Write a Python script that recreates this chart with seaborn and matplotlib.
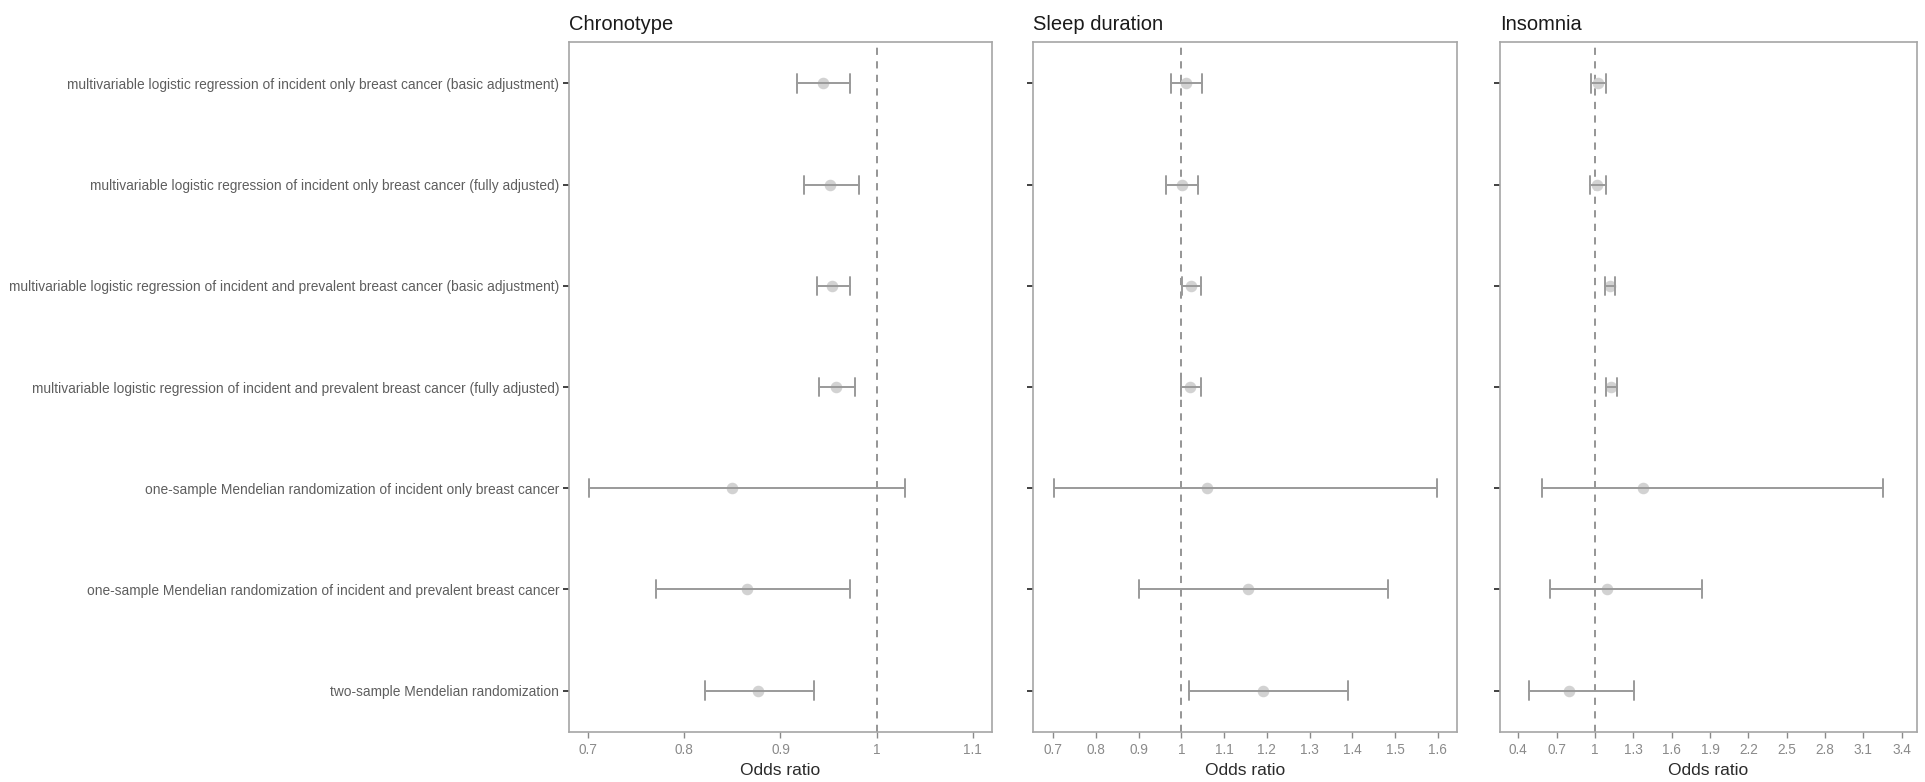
import numpy as np
import pandas as pd
import matplotlib
matplotlib.use("Agg")
import matplotlib.pyplot as plt
import seaborn as sns

# ---------------- data ----------------
analyses = [
    "multivariable logistic regression of incident only breast cancer (basic adjustment)",
    "multivariable logistic regression of incident only breast cancer (fully adjusted)",
    "multivariable logistic regression of incident and prevalent breast cancer (basic adjustment)",
    "multivariable logistic regression of incident and prevalent breast cancer (fully adjusted)",
    "one-sample Mendelian randomization of incident only breast cancer",
    "one-sample Mendelian randomization of incident and prevalent breast cancer",
    "two-sample Mendelian randomization",
]
panels = ["Chronotype", "Sleep duration", "Insomnia"]

chrono_or = [0.944, 0.952, 0.954, 0.958, 0.850, 0.865, 0.877]
chrono_lo = [0.917, 0.924, 0.938, 0.940, 0.701, 0.770, 0.821]
chrono_hi = [0.972, 0.982, 0.972, 0.977, 1.030, 0.972, 0.935]

sleep_or = [1.010, 1.001, 1.023, 1.021, 1.061, 1.156, 1.190]
sleep_lo = [0.975, 0.964, 1.001, 0.999, 0.702, 0.901, 1.018]
sleep_hi = [1.048, 1.039, 1.045, 1.045, 1.599, 1.484, 1.390]

insom_or = [1.021, 1.016, 1.120, 1.128, 1.378, 1.094, 0.794]
insom_lo = [0.967, 0.961, 1.078, 1.086, 0.585, 0.650, 0.484]
insom_hi = [1.084, 1.089, 1.157, 1.172, 3.251, 1.840, 1.308]

chrono_ticks = [0.7, 0.8, 0.9, 1.0, 1.1]
sleep_ticks = [0.7, 0.8, 0.9, 1.0, 1.1, 1.2, 1.3, 1.4, 1.5, 1.6]
insom_ticks = [0.4, 0.7, 1.0, 1.3, 1.6, 1.9, 2.2, 2.5, 2.8, 3.1, 3.4]
chrono_tick_labels = ["0.7", "0.8", "0.9", "1", "1.1"]
sleep_tick_labels = ["0.7", "0.8", "0.9", "1", "1.1", "1.2", "1.3", "1.4", "1.5", "1.6"]
insom_tick_labels = ["0.4", "0.7", "1", "1.3", "1.6", "1.9", "2.2", "2.5", "2.8", "3.1", "3.4"]

# ---------------- style ----------------
sns.set_theme(style="white")
plt.rcParams["font.family"] = ["Liberation Sans", "DejaVu Sans"]

W, H = 1925, 782
fig = plt.figure(figsize=(W / 100, H / 100), dpi=100)

# axes boxes in pixels: (left, right), top=42, bottom=732
boxes = [(569, 992), (1033, 1457), (1500, 1917)]
xlims = [(0.68, 1.12), (0.653, 1.645), (0.257, 3.52)]
top, bottom = 42, 732

series = [
    (chrono_or, chrono_lo, chrono_hi, chrono_ticks, chrono_tick_labels),
    (sleep_or, sleep_lo, sleep_hi, sleep_ticks, sleep_tick_labels),
    (insom_or, insom_lo, insom_hi, insom_ticks, insom_tick_labels),
]

frame_col = "#a6a6a6"
bar_col = "#9a9a9a"
pt_col = "#d2d2d2"

for i, (title, (l, r), xl, (est, lo, hi, ticks, tlabels)) in enumerate(
        zip(panels, boxes, xlims, series)):
    ax = fig.add_axes([l / W, 1 - bottom / H, (r - l) / W, (bottom - top) / H])

    # long data: each analysis contributes lo, est, hi; median -> estimate, full range -> CI
    df = pd.DataFrame({
        "analysis": np.repeat(analyses, 3),
        "value": np.ravel(np.column_stack([lo, est, hi])),
    })
    ax.axvline(1.0, color="#8c8c8c", lw=1.3, ls=(0, (4, 3.5)), zorder=1)
    sns.pointplot(data=df, x="value", y="analysis", order=analyses,
                  estimator="median", errorbar=("pi", 100),
                  linestyle="none", color=pt_col, markersize=6.3,
                  capsize=0.18, err_kws={"color": bar_col, "linewidth": 1.4},
                  ax=ax, zorder=3)

    ax.set_xlim(*xl)
    ax.set_ylim(6.41, -0.41)
    ax.set_xticks(ticks)
    ax.set_xticklabels(tlabels)
    ax.set_xlabel("Odds ratio", fontsize=12.5, color="#2b2b2b", labelpad=4.5)
    ax.set_ylabel("")
    ax.set_title(title, loc="left", fontsize=14.5, color="#1a1a1a", pad=9)

    for s in ax.spines.values():
        s.set_visible(True)
        s.set_color(frame_col)
        s.set_linewidth(1.2)
    ax.tick_params(axis="x", colors="#8a8a8a", labelsize=9.8, length=4, width=1.0,
                   direction="out", bottom=True, pad=4)
    ax.tick_params(axis="y", color="#333333", length=4, width=1.3, direction="out",
                   left=True, labelcolor="#5e5e5e", labelsize=9.9, pad=3)
    if i > 0:
        ax.set_yticklabels([])
    ax.grid(False)

fig.savefig("out.png", dpi=100, facecolor="white")
